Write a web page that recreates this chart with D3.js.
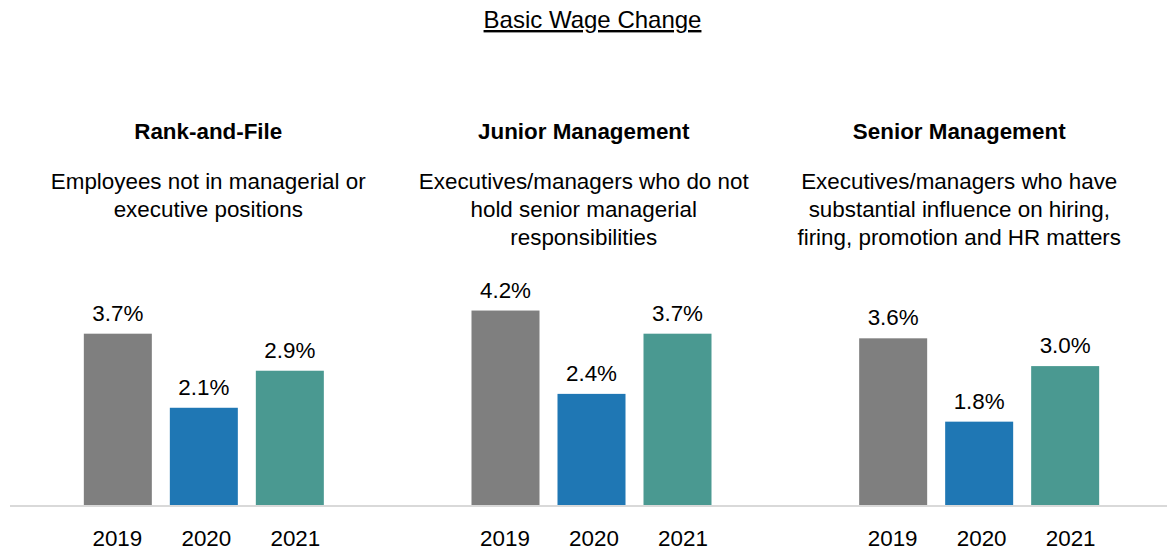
<!DOCTYPE html>
<html>
<head>
<meta charset="utf-8">
<script src="https://cdn.jsdelivr.net/npm/d3@7"></script>
<style>
  html, body { margin: 0; padding: 0; background: #fff; }
  svg { display: block; font-family: "Liberation Sans", Arial, sans-serif; }
</style>
</head>
<body>
<svg id="chart" width="1167" height="554"></svg>
<script>
// Basic wage change by employee group, 2019–2021
const groups = ["Rank-and-File", "Junior Management", "Senior Management"];
const descriptions = [
  ["Employees not in managerial or", "executive positions"],
  ["Executives/managers who do not", "hold senior managerial", "responsibilities"],
  ["Executives/managers who have", "substantial influence on hiring,", "firing, promotion and HR matters"]
];
const years = ["2019", "2020", "2021"];
const rankAndFile = [3.7, 2.1, 2.9];
const juniorMgmt = [4.2, 2.4, 3.7];
const seniorMgmt = [3.6, 1.8, 3.0];
const seriesValues = [rankAndFile, juniorMgmt, seniorMgmt];
const yearColors = ["#7f7f7f", "#1f77b4", "#4a9991"];

const svg = d3.select("#chart");
const W = 1167;
const baseY = 505;
const fs = 22.4;

// Scales: one band per group for the bars, a separate band for the heading blocks
const xGroup = d3.scaleBand().domain(groups).range([10, 1173]).padding(0);
const xHead = d3.scaleBand().domain(groups).range([20.5, 1147]).padding(0);
const y = d3.scaleLinear().domain([0, 4.5]).range([baseY, baseY - 4.5 * 46.3]);
const color = d3.scaleOrdinal().domain(years).range(yearColors);

// Title
svg.append("text")
  .attr("x", 592.5).attr("y", 28)
  .attr("text-anchor", "middle")
  .style("font-size", "24px")
  .style("text-decoration", "underline")
  .attr("fill", "#000")
  .text("Basic Wage Change");

// Baseline
svg.append("line")
  .attr("x1", 10).attr("x2", W)
  .attr("y1", baseY + 1).attr("y2", baseY + 1)
  .attr("stroke", "#d9d9d9").attr("stroke-width", 2);

groups.forEach((g, gi) => {
  const cx = xGroup(g) + xGroup.bandwidth() / 2;
  const hx = xHead(g) + xHead.bandwidth() / 2;
  const xYear = d3.scaleBand().domain(years)
    .range([cx - 129, cx + 129])
    .paddingInner(18 / 86).paddingOuter(9 / 86);
  // year labels sit on a slightly wider spacing than the bars
  const xYearLabel = d3.scalePoint().domain(years)
    .range([cx + 2 - 89, cx + 2 + 89]);

  const panel = svg.append("g").attr("class", "panel");

  panel.append("text")
    .attr("x", hx).attr("y", 139)
    .attr("text-anchor", "middle")
    .style("font-size", fs + "px").style("font-weight", "bold")
    .attr("fill", "#000")
    .text(g);

  panel.append("g").selectAll("text")
    .data(descriptions[gi]).join("text")
    .attr("x", hx).attr("y", (d, i) => 189 + i * 28)
    .attr("text-anchor", "middle")
    .style("font-size", fs + "px")
    .attr("fill", "#000")
    .text(d => d);

  const data = years.map((yr, i) => ({ year: yr, value: seriesValues[gi][i] }));

  panel.append("g").selectAll("rect")
    .data(data).join("rect")
    .attr("x", d => xYear(d.year))
    .attr("width", xYear.bandwidth())
    .attr("y", d => y(d.value))
    .attr("height", d => baseY - y(d.value))
    .attr("fill", d => color(d.year));

  panel.append("g").selectAll("text")
    .data(data).join("text")
    .attr("x", d => xYear(d.year) + xYear.bandwidth() / 2)
    .attr("y", d => y(d.value) - 13)
    .attr("text-anchor", "middle")
    .style("font-size", fs + "px")
    .attr("fill", "#000")
    .text(d => d.value.toFixed(1) + "%");

  // Year axis labels
  const axis = d3.axisBottom(xYearLabel).tickSize(0).tickPadding(0);
  const axG = panel.append("g").attr("transform", `translate(0,${baseY})`).call(axis);
  axG.select(".domain").remove();
  axG.selectAll("text")
    .attr("y", 41).attr("dy", 0)
    .style("font-size", fs + "px")
    .style("font-family", "'Liberation Sans', Arial, sans-serif")
    .attr("fill", "#000");
});
</script>
</body>
</html>
